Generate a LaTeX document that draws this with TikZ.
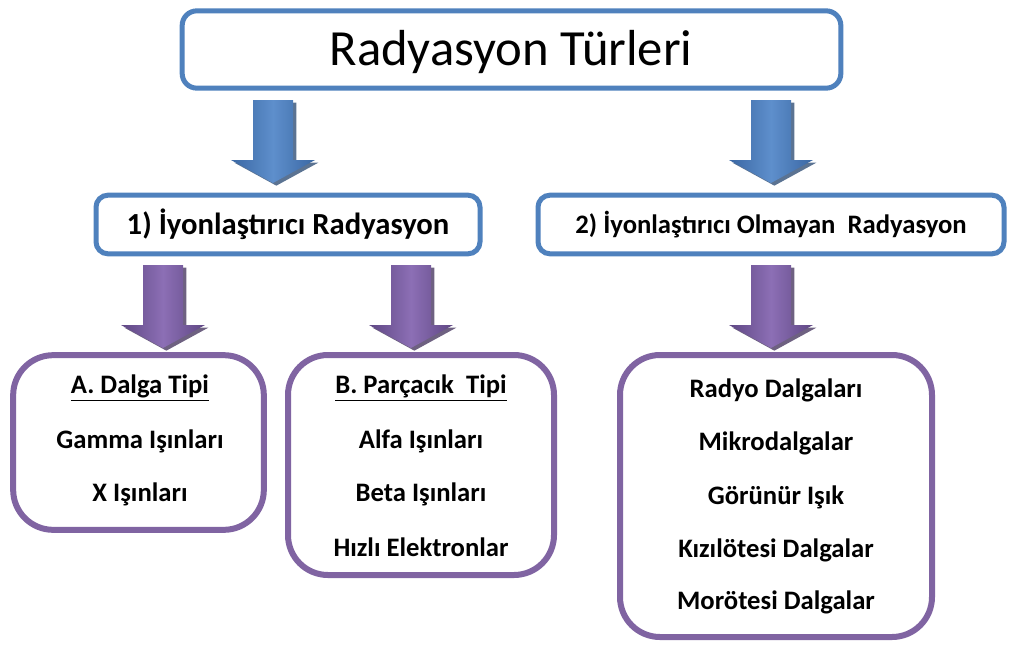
\documentclass[tikz,border=0pt]{standalone}
\usepackage{fontspec}
\setmainfont{Carlito}
\definecolor{boxblue}{HTML}{4F81BD}
\definecolor{boxpurple}{HTML}{8064A2}
\definecolor{arblueE}{HTML}{3A67A3}
\definecolor{arblueM}{HTML}{5E8FCC}
\definecolor{arblueS}{HTML}{24446E}
\definecolor{arpurE}{HTML}{5F4784}
\definecolor{arpurM}{HTML}{8C6FB5}
\definecolor{arpurS}{HTML}{3D2C57}
\newcommand\blockarrow[4]{%
  \fill[#4, opacity=0.75, shift={(#1)}, xshift=2.5pt, yshift=-2pt]
    (-20,0) -- (20,0) -- (20,60) -- (42,60) -- (0,83) -- (-42,60) -- (-20,60) -- cycle;
  \shade[shift={(#1)}, left color=#2, right color=#2, middle color=#3]
    (-20,0) -- (20,0) -- (20,60) -- (42,60) -- (0,83) -- (-42,60) -- (-20,60) -- cycle;
}
\begin{document}
\begin{tikzpicture}[x=0.75pt,y=-0.75pt,
  bluebox/.style={draw=boxblue, line width=3.75pt, fill=white, rectangle},
  purplebox/.style={draw=boxpurple, line width=4.5pt, fill=white, rectangle, rounded corners=30pt},
  item/.style={font=\bfseries\fontsize{20}{24}\selectfont, inner sep=0pt}]
\useasboundingbox (0,0) rectangle (1009,646);
% boxes
\node[bluebox, rounded corners=11pt, minimum width=494pt, minimum height=58pt] (top) at (511.5,49.5) {};
\node[bluebox, rounded corners=9pt, minimum width=288pt, minimum height=44pt] (ion) at (288,224.5) {};
\node[bluebox, rounded corners=9pt, minimum width=349.5pt, minimum height=44pt] (nonion) at (771,224.5) {};
\node[purplebox, minimum width=188pt, minimum height=131pt] (boxA) at (138.5,442.5) {};
\node[purplebox, minimum width=199.5pt, minimum height=165pt] (boxB) at (421,465) {};
\node[purplebox, minimum width=234pt, minimum height=211.5pt] (boxC) at (776,496) {};
% texts
\node[font=\fontsize{38}{44}\selectfont, inner sep=0pt] (title) at (511,52) {Radyasyon Türleri};
\node[font=\bfseries\fontsize{23}{28}\selectfont, inner sep=0pt] (t1) at (ion.center) {1) İyonlaştırıcı Radyasyon};
\node[font=\bfseries\fontsize{20}{24}\selectfont, inner sep=0pt] (t2) at (nonion.center) {2) İyonlaştırıcı Olmayan\ \ Radyasyon};
\node[item] (a0) at (140,388) {\underline{A. Dalga Tipi}};
\node[item] (a1) at (140,441) {Gamma Işınları};
\node[item] (a2) at (140,494) {X Işınları};
\node[item] (b0) at (421,388) {\underline{B. Parçacık\ \ Tipi}};
\node[item] (b1) at (421,441) {Alfa Işınları};
\node[item] (b2) at (421,494) {Beta Işınları};
\node[item] (b3) at (421,547) {Hızlı Elektronlar};
\node[item] (c0) at (776,390) {Radyo Dalgaları};
\node[item] (c1) at (776,443) {Mikrodalgalar};
\node[item] (c2) at (776,497) {Görünür Işık};
\node[item] (c3) at (776,550) {Kızılötesi Dalgalar};
\node[item] (c4) at (776,602) {Morötesi Dalgalar};
% arrows
\coordinate (ar1) at (273,100);
\coordinate (ar2) at (771,100);
\coordinate (ar3) at (163,265);
\coordinate (ar4) at (411,265);
\coordinate (ar5) at (771,265);
\blockarrow{ar1}{arblueE}{arblueM}{arblueS}
\blockarrow{ar2}{arblueE}{arblueM}{arblueS}
\blockarrow{ar3}{arpurE}{arpurM}{arpurS}
\blockarrow{ar4}{arpurE}{arpurM}{arpurS}
\blockarrow{ar5}{arpurE}{arpurM}{arpurS}
\end{tikzpicture}
\end{document}
